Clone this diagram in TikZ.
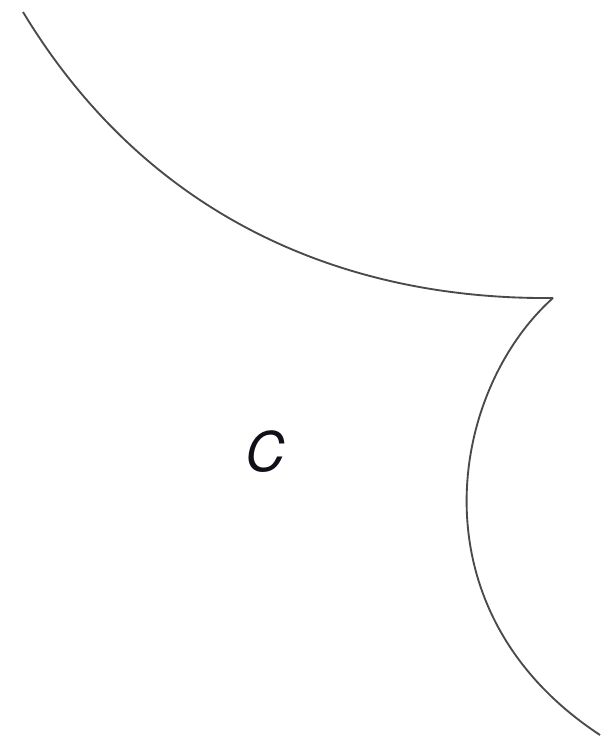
\documentclass[tikz,border=0pt]{standalone}
\usepackage{fontspec}
\setsansfont{TeX Gyre Heros}
\usetikzlibrary{positioning}
\definecolor{CurveInk}{HTML}{4A4A4A}
\definecolor{LabelInk}{HTML}{101018}
\tikzset{
  every node/.style={font=\sffamily, text=LabelInk},
  curve/.style={draw=CurveInk, line width=1.4pt},
  region/.style={font=\sffamily\itshape\fontsize{41}{48}\selectfont},
}
\begin{document}
\begin{tikzpicture}[x=0.75pt,y=-0.75pt]
  \useasboundingbox (0,0) rectangle (602,741);

  % Cusp where the two arcs meet
  \coordinate (cusp) at (553,298);
  \coordinate (topend) at (23,12);
  \coordinate (lowend) at (600,735);

  % Upper arc and lower arc
  \draw[curve] (topend) .. controls (150,222) and (350,300) .. (cusp);
  \draw[curve] (cusp) .. controls (450,390) and (410,610) .. (lowend);

  % Region label
  \node[region] (lblC) at (265,452) {C};
\end{tikzpicture}
\end{document}
